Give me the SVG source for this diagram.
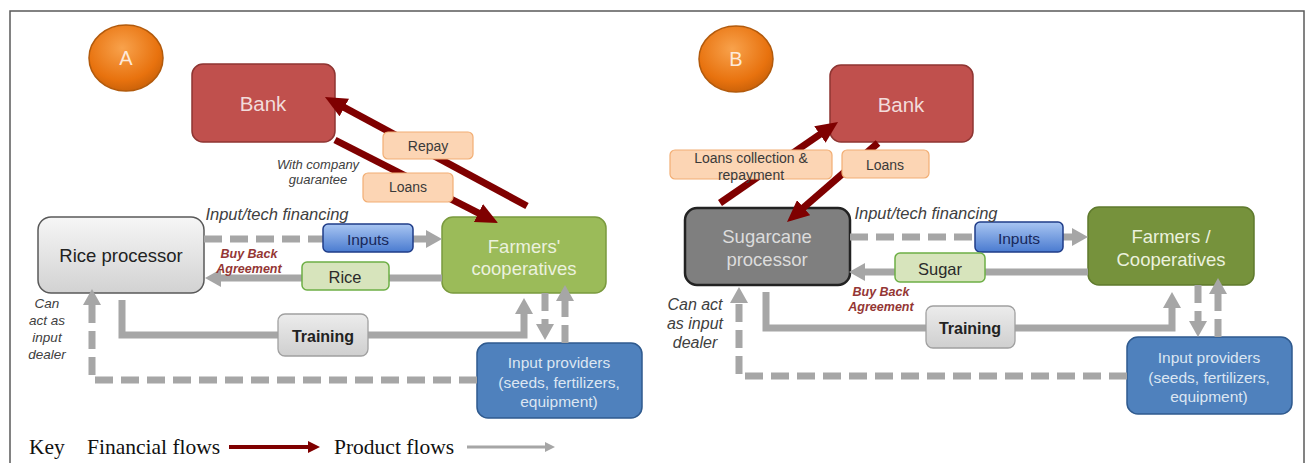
<svg xmlns="http://www.w3.org/2000/svg" width="1309" height="463" viewBox="0 0 1309 463">
  <style>
    text { font-family: "Liberation Sans", Arial, sans-serif; text-anchor: middle; dominant-baseline: central; }
    .bank { fill: #C0504D; stroke: #8E3532; stroke-width: 1.5; }
    .bank-t { fill: #F2DCDB; font-size: 20.5px; }
    .peach { fill: #FCD5B4; stroke: #F2AE74; stroke-width: 1.2; }
    .peach-t { fill: #3A3A3A; font-size: 14px; }
    .inputs { fill: url(#gBlue); stroke: #1F3C88; stroke-width: 1.5; }
    .inputs-t { fill: #17275A; font-size: 15.5px; }
    .crop { fill: #D7E4BC; stroke: #6DAF45; stroke-width: 1.5; }
    .crop-t { fill: #2A2A2A; font-size: 16.5px; }
    .train { fill: url(#gGray); stroke: #A0A0A0; stroke-width: 1.3; }
    .train-t { fill: #222; font-size: 16px; font-weight: bold; }
    .prov { fill: #4F81BD; stroke: #2F5A8E; stroke-width: 1.5; }
    .prov-t { fill: #DCE6F2; font-size: 15.5px; }
    .farm-t { fill: #EBF1DE; font-size: 18.5px; }
    .note { fill: #404040; font-style: italic; }
    .bba { fill: #943634; font-style: italic; font-weight: bold; font-size: 12.5px; }
    .fin { fill: none; stroke: #7F0000; stroke-width: 7; marker-end: url(#redHead); }
    .prod { fill: none; stroke: #A6A6A6; stroke-width: 7; marker-end: url(#grayHead); }
    .dash { stroke-dasharray: 18 8; }
    .key { font-family: "Liberation Serif", "Times New Roman", serif; font-size: 21.5px; fill: #111; text-anchor: start; dominant-baseline: alphabetic; }
    .badge { stroke: #B25A0C; stroke-width: 1.5; fill: url(#gOrange); }
    .badge-t { fill: #FDE9D9; font-size: 20px; }
  </style>
  <defs>
    <radialGradient id="gOrange" cx="0.45" cy="0.35" r="0.7">
      <stop offset="0" stop-color="#F8A24C"/>
      <stop offset="0.7" stop-color="#E8720E"/>
      <stop offset="1" stop-color="#C45E08"/>
    </radialGradient>
    <linearGradient id="gBlue" x1="0" y1="0" x2="0" y2="1">
      <stop offset="0" stop-color="#A9C6F2"/>
      <stop offset="1" stop-color="#4A7BD0"/>
    </linearGradient>
    <linearGradient id="gGray" x1="0" y1="0" x2="0" y2="1">
      <stop offset="0" stop-color="#ECECEC"/>
      <stop offset="1" stop-color="#CFCFCF"/>
    </linearGradient>
    <linearGradient id="gRice" x1="0" y1="0" x2="0" y2="1">
      <stop offset="0" stop-color="#F6F6F6"/>
      <stop offset="1" stop-color="#D2D2D2"/>
    </linearGradient>
    <marker id="redHead" markerUnits="userSpaceOnUse" viewBox="0 0 22 20" markerWidth="22" markerHeight="20" refX="4" refY="10" orient="auto">
      <path d="M0,0 L22,10 L0,20 z" fill="#7F0000"/>
    </marker>
    <marker id="grayHead" markerUnits="userSpaceOnUse" viewBox="0 0 16 18" markerWidth="16" markerHeight="18" refX="3" refY="9" orient="auto">
      <path d="M0,0 L16,9 L0,18 z" fill="#A6A6A6"/>
    </marker>
    <marker id="redKey" markerUnits="userSpaceOnUse" viewBox="0 0 12 12" markerWidth="12" markerHeight="12" refX="2" refY="6" orient="auto">
      <path d="M0,0 L12,6 L0,12 z" fill="#7F0000"/>
    </marker>
    <marker id="grayKey" markerUnits="userSpaceOnUse" viewBox="0 0 10 10" markerWidth="10" markerHeight="10" refX="2" refY="5" orient="auto">
      <path d="M0,0 L10,5 L0,10 z" fill="#A6A6A6"/>
    </marker>
  </defs>

  <rect width="1309" height="463" fill="#FFFFFF"/>
  <!-- outer frame, open at the bottom -->
  <rect x="10" y="11" width="1294" height="470" fill="none" stroke="#5A5A5A" stroke-width="1.5"/>

  <!-- ===== Panel A ===== -->
  <g id="badgeA">
    <ellipse class="badge" cx="126" cy="58" rx="37" ry="33"/>
    <text class="badge-t" x="126" y="58">A</text>
  </g>
  <g id="bankA">
    <rect class="bank" x="192" y="64" width="143" height="78" rx="11"/>
    <text class="bank-t" x="263" y="103">Bank</text>
  </g>
  <g id="riceProcessor">
    <rect x="38" y="217" width="166" height="76" rx="13" fill="url(#gRice)" stroke="#595959" stroke-width="1.5"/>
    <text x="121" y="255" fill="#222" font-size="18.5">Rice processor</text>
  </g>
  <g id="farmersA">
    <rect x="442" y="217" width="164" height="76" rx="11" fill="#9BBB59" stroke="#7A9A3E" stroke-width="1.5"/>
    <text class="farm-t" x="524" y="246">Farmers'</text>
    <text class="farm-t" x="524" y="268">cooperatives</text>
  </g>
  <g id="providersA">
    <rect class="prov" x="477" y="343" width="165" height="75" rx="11"/>
    <text class="prov-t" x="559" y="362">Input providers</text>
    <text class="prov-t" x="559" y="382">(seeds, fertilizers,</text>
    <text class="prov-t" x="559" y="401">equipment)</text>
  </g>

  <!-- ===== Panel B ===== -->
  <g id="badgeB">
    <ellipse class="badge" cx="736" cy="59" rx="37" ry="33"/>
    <text class="badge-t" x="736" y="59">B</text>
  </g>
  <g id="bankB">
    <rect class="bank" x="830" y="65" width="143" height="77" rx="11"/>
    <text class="bank-t" x="901" y="104">Bank</text>
  </g>
  <g id="sugarcaneProcessor">
    <rect x="685" y="208" width="165" height="77" rx="12" fill="#7F7F7F" stroke="#222" stroke-width="2.5"/>
    <text x="767" y="236" fill="#DCDCDC" font-size="18.5">Sugarcane</text>
    <text x="767" y="259" fill="#DCDCDC" font-size="18.5">processor</text>
  </g>
  <g id="farmersB">
    <rect x="1088" y="207" width="166" height="78" rx="11" fill="#76923C" stroke="#5F7A2D" stroke-width="1.5"/>
    <text class="farm-t" x="1171" y="236">Farmers /</text>
    <text class="farm-t" x="1171" y="259">Cooperatives</text>
  </g>
  <g id="providersB">
    <rect class="prov" x="1127" y="337" width="165" height="77" rx="11"/>
    <text class="prov-t" x="1209" y="357">Input providers</text>
    <text class="prov-t" x="1209" y="377">(seeds, fertilizers,</text>
    <text class="prov-t" x="1209" y="396">equipment)</text>
  </g>

  <!-- flows -->
  <g id="connectors">
    <!-- A: financial -->
    <line class="fin" x1="527" y1="206" x2="340.8" y2="105.6"/>
    <line class="fin" x1="335" y1="140" x2="482" y2="214.8"/>
    <!-- A: product -->
    <path class="prod dash" d="M204,239 H429"/>
    <path class="prod" d="M442,278 H218"/>
    <path class="prod" d="M122,300 V335 H524 V311"/>
    <path class="prod dash" d="M545,293 V327"/>
    <path class="prod dash" d="M565,343 V298"/>
    <path class="prod dash" d="M477,380 H92 V302"/>
    <!-- B: financial -->
    <line class="fin" x1="720" y1="203" x2="823.2" y2="132.2"/>
    <line class="fin" x1="878" y1="143" x2="800.6" y2="210.2"/>
    <!-- B: product -->
    <path class="prod dash" d="M850,237 H1075"/>
    <path class="prod" d="M1088,272 H862"/>
    <path class="prod" d="M766,292 V328 H1172 V305"/>
    <path class="prod dash" d="M1198,285 V324"/>
    <path class="prod dash" d="M1218,337 V291"/>
    <path class="prod dash" d="M1127,376 H739 V300"/>
  </g>

  <!-- flow labels -->
  <g id="repayA">
    <rect class="peach" x="383" y="132" width="90" height="27" rx="5"/>
    <text class="peach-t" x="428" y="146">Repay</text>
  </g>
  <g id="loansA">
    <rect class="peach" x="363" y="173" width="90" height="29" rx="5"/>
    <text class="peach-t" x="408" y="187">Loans</text>
  </g>
  <g id="inputsA">
    <rect class="inputs" x="323" y="224" width="90" height="28" rx="5"/>
    <text class="inputs-t" x="368" y="239">Inputs</text>
  </g>
  <g id="riceA">
    <rect class="crop" x="302" y="262" width="87" height="28" rx="5"/>
    <text class="crop-t" x="345" y="277">Rice</text>
  </g>
  <g id="trainingA">
    <rect class="train" x="278" y="314" width="90" height="42" rx="7"/>
    <text class="train-t" x="323" y="336">Training</text>
  </g>
  <g id="notesA">
    <text class="note" x="318" y="164" font-size="13">With company</text>
    <text class="note" x="318" y="179" font-size="13">guarantee</text>
    <text class="note" x="277" y="214" font-size="16.5">Input/tech financing</text>
    <text class="bba" x="249" y="254">Buy Back</text>
    <text class="bba" x="249" y="269">Agreement</text>
    <text class="note" x="47" y="303" font-size="13.5">Can</text>
    <text class="note" x="47" y="320" font-size="13.5">act as</text>
    <text class="note" x="47" y="337" font-size="13.5">input</text>
    <text class="note" x="47" y="354" font-size="13.5">dealer</text>
  </g>

  <g id="collectionB">
    <rect class="peach" x="670" y="150" width="162" height="29" rx="5"/>
    <text class="peach-t" x="751" y="158" font-size="13.5">Loans collection &amp;</text>
    <text class="peach-t" x="751" y="175" font-size="13.5">repayment</text>
  </g>
  <g id="loansB">
    <rect class="peach" x="842" y="150" width="87" height="28" rx="5"/>
    <text class="peach-t" x="885" y="165">Loans</text>
  </g>
  <g id="inputsB">
    <rect class="inputs" x="975" y="222" width="88" height="30" rx="5"/>
    <text class="inputs-t" x="1019" y="238">Inputs</text>
  </g>
  <g id="sugarB">
    <rect class="crop" x="895" y="253" width="90" height="29" rx="5"/>
    <text class="crop-t" x="940" y="269">Sugar</text>
  </g>
  <g id="trainingB">
    <rect class="train" x="926" y="306" width="89" height="42" rx="7"/>
    <text class="train-t" x="970" y="328">Training</text>
  </g>
  <g id="notesB">
    <text class="note" x="926" y="213" font-size="16.5">Input/tech financing</text>
    <text class="bba" x="881" y="292">Buy Back</text>
    <text class="bba" x="881" y="307">Agreement</text>
    <text class="note" x="695" y="304" font-size="16">Can act</text>
    <text class="note" x="695" y="323" font-size="16">as input</text>
    <text class="note" x="695" y="342" font-size="16">dealer</text>
  </g>

  <!-- legend -->
  <g id="legend">
    <text class="key" x="29" y="454">Key</text>
    <text class="key" x="87" y="454">Financial flows</text>
    <line x1="229" y1="447" x2="310" y2="447" stroke="#7F0000" stroke-width="4" marker-end="url(#redKey)"/>
    <text class="key" x="334" y="454">Product flows</text>
    <line x1="467" y1="447" x2="547" y2="447" stroke="#A6A6A6" stroke-width="3" marker-end="url(#grayKey)"/>
  </g>
</svg>
